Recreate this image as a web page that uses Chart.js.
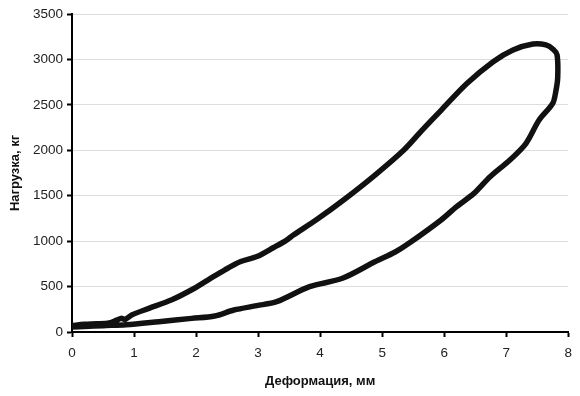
<!DOCTYPE html>
<html>
<head>
<meta charset="utf-8">
<script src="https://cdn.jsdelivr.net/npm/chart.js@4"></script>
<style>
  html, body { margin: 0; padding: 0; background: #fff; }
  #wrap { width: 580px; height: 396px; }
</style>
</head>
<body>
<div id="wrap"><canvas id="chart" width="580" height="396"></canvas></div>
<script>
// верхняя ветвь (от 0 до пика)
const upperX = [0, 0.2, 0.4, 0.6, 0.72, 0.79, 0.86, 0.97, 1.24, 1.61, 1.93, 2.19, 2.46, 2.72, 2.98, 3.25, 3.46, 3.57, 3.94, 4.41, 4.89, 5.35, 5.63, 5.95, 6.37, 6.79, 7.11, 7.43, 7.64, 7.76, 7.82, 7.83, 7.8, 7.75];
const upperY = [70, 85, 90, 100, 130, 150, 140, 190, 260, 355, 465, 572, 682, 775, 830, 930, 1012, 1068, 1235, 1470, 1730, 2003, 2210, 2440, 2737, 2975, 3104, 3170, 3160, 3110, 3050, 2800, 2650, 2517];

// нижняя ветвь (обратно к 0)
const lowerX = [7.53, 7.32, 7.06, 6.74, 6.48, 6.2, 5.95, 5.42, 5.21, 4.89, 4.36, 3.83, 3.3, 2.98, 2.61, 2.3, 1.93, 1.4, 0.87, 0.5, 0.2, 0];
const lowerY = [2333, 2077, 1893, 1709, 1526, 1380, 1233, 970, 880, 775, 591, 499, 334, 290, 242, 176, 150, 114, 80, 70, 60, 55];

const xTicks = [0, 1, 2, 3, 4, 5, 6, 7, 8];
const yTicks = [0, 500, 1000, 1500, 2000, 2500, 3000, 3500];

const points = [];
upperX.forEach((x, i) => points.push({ x: x, y: upperY[i] }));
lowerX.forEach((x, i) => points.push({ x: x, y: lowerY[i] }));

const ctx = document.getElementById("chart");
const tickFont = { family: "Liberation Sans, Arial", size: 13.5 };
const titleFont = { family: "Liberation Sans, Arial", size: 13, weight: "bold" };

const config = {
  type: "scatter",
  data: {
    datasets: [
      {
        data: points,
        showLine: true,
        borderColor: "#111",
        borderWidth: 5.5,
        pointRadius: 0,
        tension: 0.3,
        borderJoinStyle: "round",
        borderCapStyle: "round",
      },
    ],
  },
  options: {
    responsive: false,
    animation: false,
    layout: { padding: { top: 14, right: 4, left: 0, bottom: 0 } },
    plugins: { legend: { display: false }, tooltip: { enabled: false } },
    scales: {
      x: {
        type: "linear",
        min: 0,
        max: 8,
        afterBuildTicks: (scale) => {
          scale.ticks = xTicks.map((v) => ({ value: v }));
        },
        afterFit: (scale) => {
          scale.height = 64;
        },
        grid: {
          drawOnChartArea: false,
          tickColor: "#000",
          tickLength: 5,
          tickWidth: 2,
        },
        border: { display: true, color: "#000", width: 2 },
        ticks: {
          color: "#222",
          padding: 8,
          font: tickFont,
          callback: (v) => String(v),
        },
        title: {
          display: true,
          text: "Деформация, мм",
          color: "#111",
          padding: { top: 4, bottom: 7 },
          font: titleFont,
        },
      },
      y: {
        type: "linear",
        min: 0,
        max: 3500,
        afterBuildTicks: (scale) => {
          scale.ticks = yTicks.map((v) => ({ value: v }));
        },
        afterFit: (scale) => {
          scale.width = 72;
        },
        grid: {
          color: "#dddddd",
          lineWidth: 1,
          tickColor: "#000",
          tickLength: 5,
          tickWidth: 2,
        },
        border: { display: true, color: "#000", width: 2 },
        ticks: {
          color: "#222",
          padding: 4,
          font: tickFont,
          callback: (v) => String(v),
        },
        title: {
          display: true,
          text: "Нагрузка, кг",
          color: "#111",
          padding: { top: 8, bottom: 4 },
          font: titleFont,
        },
      },
    },
  },
};

const chart = new Chart(ctx, config);
</script>
</body>
</html>
